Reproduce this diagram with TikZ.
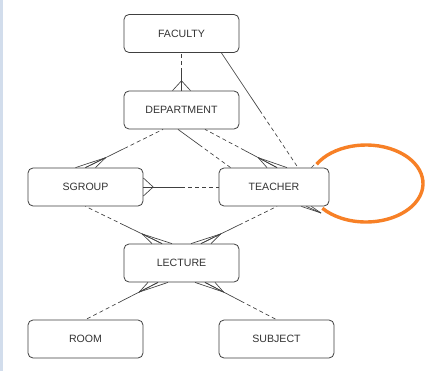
\documentclass[tikz,border=0pt]{standalone}
\usepackage{fontspec}
\setmainfont{Liberation Sans}
\usetikzlibrary{calc}

\definecolor{ringorange}{RGB}{247,128,38}
\definecolor{sidebar}{RGB}{210,221,236}

\begin{document}
\begin{tikzpicture}[
    x=1pt, y=-1pt,
    ent/.style={
        rectangle,
        rounded corners=5pt,
        draw=black!75,
        line width=0.8pt,
        fill=white,
        minimum width=115pt,
        minimum height=38pt,
        inner sep=2pt,
        font=\fontsize{10.6}{12}\selectfont,
        text=black!80
    },
    mand_edge/.style={
        draw=black!75,
        line width=0.65pt
    },
    opt_edge/.style={
        mand_edge,
        dash pattern=on 4pt off 3pt
    },
    note_ring/.style={
        draw=ringorange,
        line width=3.4pt
    }
]

    % background and page frame
    \fill[white] (0,0) rectangle (435,371);
    \fill[sidebar] (0,0) rectangle (3,371);
    \useasboundingbox (0,0) rectangle (435,371);

    % ====== entities ======
    \node[ent] (fac) at (181.5,33.5) {FACULTY};
    \node[ent] (dep) at (181.5,110) {DEPARTMENT};
    \node[ent] (sgroup) at (85.5,187) {SGROUP};
    \node[ent, minimum width=110pt] (teach) at (274,187) {TEACHER};
    \node[ent] (lec) at (181.5,263) {LECTURE};
    \node[ent] (room) at (85.5,339) {ROOM};
    \node[ent] (subj) at (276.5,339) {SUBJECT};

    % ====== end points of the relationships ======
    \coordinate (fd_f) at (fac.south);
    \coordinate (fd_d) at (dep.north);
    \coordinate (ft_f) at ($(fac.south east)+(-18,0)$);
    \coordinate (ft_t) at ($(teach.north)+(24,0)$);
    \coordinate (ds_d) at ($(dep.south)+(-18.5,0)$);
    \coordinate (ds_s) at (sgroup.north);
    \coordinate (dt1_d) at ($(dep.south)+(-3.5,0)$);
    \coordinate (dt1_t) at ($(teach.north west)+(12,0)$);
    \coordinate (dt2_d) at ($(dep.south)+(23.5,0)$);
    \coordinate (dt2_t) at ($(teach.north)+(3,0)$);
    \coordinate (st_s) at (sgroup.east);
    \coordinate (st_t) at (teach.west);
    \coordinate (sl_s) at (sgroup.south);
    \coordinate (sl_l) at ($(lec.north)+(-19.5,0)$);
    \coordinate (tl_t) at ($(teach.south)+(3,0)$);
    \coordinate (tl_l) at ($(lec.north)+(19.5,0)$);
    \coordinate (lr_l) at ($(lec.south)+(-23.5,0)$);
    \coordinate (lr_r) at (room.north);
    \coordinate (ls_l) at ($(lec.south)+(23.5,0)$);
    \coordinate (ls_s) at (subj.north);

    % ====== relationships: solid half at the first end, dashed half at the other ======
    \draw[mand_edge] (fd_d) -- ($(fd_d)!0.5!(fd_f)$);
    \draw[opt_edge] ($(fd_d)!0.5!(fd_f)$) -- (fd_f);
    \draw[mand_edge] (ft_f) -- ($(ft_f)!0.5!(ft_t)$);
    \draw[opt_edge] ($(ft_f)!0.5!(ft_t)$) -- (ft_t);
    \draw[mand_edge] (ds_s) -- ($(ds_s)!0.5!(ds_d)$);
    \draw[opt_edge] ($(ds_s)!0.5!(ds_d)$) -- (ds_d);
    \draw[mand_edge] (dt1_d) -- ($(dt1_d)!0.4!(dt1_t)$);
    \draw[opt_edge] ($(dt1_d)!0.4!(dt1_t)$) -- (dt1_t);
    \draw[mand_edge] (dt2_t) -- ($(dt2_t)!0.45!(dt2_d)$);
    \draw[opt_edge] ($(dt2_t)!0.45!(dt2_d)$) -- (dt2_d);
    \draw[mand_edge] (st_s) -- ($(st_s)!0.5!(st_t)$);
    \draw[opt_edge] ($(st_s)!0.5!(st_t)$) -- (st_t);
    \draw[mand_edge] (sl_l) -- ($(sl_l)!0.5!(sl_s)$);
    \draw[opt_edge] ($(sl_l)!0.5!(sl_s)$) -- (sl_s);
    \draw[mand_edge] (tl_l) -- ($(tl_l)!0.5!(tl_t)$);
    \draw[opt_edge] ($(tl_l)!0.5!(tl_t)$) -- (tl_t);
    \draw[mand_edge] (lr_l) -- ($(lr_l)!0.5!(lr_r)$);
    \draw[opt_edge] ($(lr_l)!0.5!(lr_r)$) -- (lr_r);
    \draw[mand_edge] (ls_l) -- ($(ls_l)!0.5!(ls_s)$);
    \draw[opt_edge] ($(ls_l)!0.5!(ls_s)$) -- (ls_s);

    % crow's feet
    \foreach \d in {-9,0,9} {
        \draw[mand_edge] ($(fd_d)!0.26!(fd_f)$) -- ($(fd_d)+(\d,0)$);
        \draw[mand_edge] ($(st_s)!0.13!(st_t)$) -- ($(st_s)+(0,\d)$);
    }
    \foreach \d in {-10,0,10} {
        \draw[mand_edge] ($(ds_s)!0.26!(ds_d)$) -- ($(ds_s)+(\d,0)$);
        \draw[mand_edge] ($(dt2_t)!0.26!(dt2_d)$) -- ($(dt2_t)+(\d,0)$);
        \draw[mand_edge] ($(sl_l)!0.26!(sl_s)$) -- ($(sl_l)+(\d,0)$);
        \draw[mand_edge] ($(tl_l)!0.26!(tl_t)$) -- ($(tl_l)+(\d,0)$);
        \draw[mand_edge] ($(lr_l)!0.26!(lr_r)$) -- ($(lr_l)+(\d,0)$);
        \draw[mand_edge] ($(ls_l)!0.26!(ls_s)$) -- ($(ls_l)+(\d,0)$);
    }

    % TEACHER self relationship, mostly under the ring
    \coordinate (loop_top) at (317,162);
    \coordinate (loop_bot) at (321,213);
    \draw[opt_edge] ($(teach.north east)+(-18,0)$) -- (loop_top);
    \foreach \d in {-5,0,5}
        \draw[mand_edge] (loop_bot) -- ($(teach.south east)+(-23+\d,0)$);

    % orange mark
    \coordinate (ring_c) at (366,183.5);
    \draw[note_ring] ([shift={(150:57pt and 38.5pt)}]ring_c)
        arc[start angle=150, end angle=-140, x radius=57pt, y radius=38.5pt];

\end{tikzpicture}
\end{document}
